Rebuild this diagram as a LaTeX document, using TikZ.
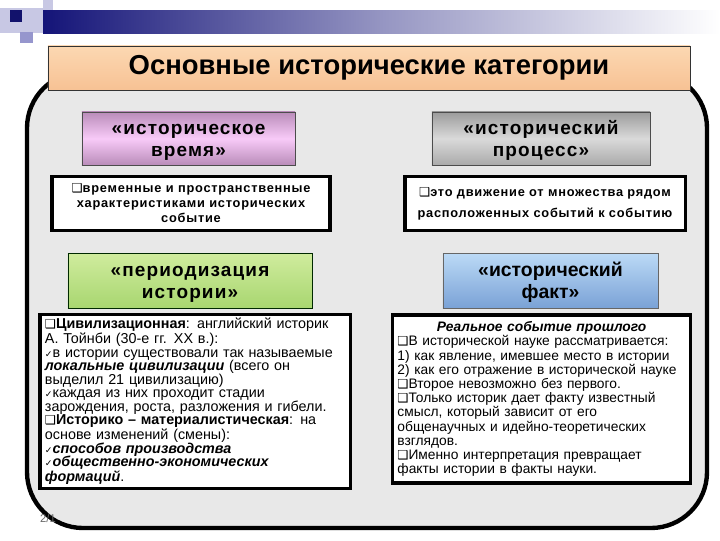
\documentclass[tikz,border=0pt]{standalone}
\usepackage{fontspec}
\setmainfont{Liberation Sans}
\newfontfamily\symfont{DejaVu Sans}
\newfontfamily\spacedfont[LetterSpace=6]{Liberation Sans}
\usetikzlibrary{positioning,shapes.geometric}
\definecolor{navyDS}{RGB}{20,20,120}
\definecolor{lavDS}{RGB}{200,200,228}
\definecolor{lavDarkDS}{RGB}{150,150,205}
\definecolor{panelDS}{RGB}{232,232,232}
\definecolor{peachTop}{RGB}{252,216,178}
\definecolor{peachBot}{RGB}{247,194,148}
\definecolor{purpEdge}{RGB}{185,140,185}
\definecolor{purpMid}{RGB}{248,202,248}
\definecolor{greyEdge}{RGB}{155,155,155}
\definecolor{greyMid}{RGB}{218,218,218}
\definecolor{greenTop}{RGB}{208,236,158}
\definecolor{greenBot}{RGB}{168,214,112}
\definecolor{blueTop}{RGB}{188,218,246}
\definecolor{blueBot}{RGB}{122,162,214}
\newcommand{\sqbul}{{\symfont\fontsize{8.8}{8.8}\selectfont ❑}}
\newcommand{\chkbul}{{\symfont\fontsize{6.5}{6.5}\selectfont ✓}}
\newcommand{\headstrut}{\rule{0pt}{13pt}}
\setlength{\lineskiplimit}{-10pt}

\begin{document}
\begin{tikzpicture}[x=0.025cm, y=-0.025cm,
      title/.style  = {rectangle, draw=black!80, thin, top color=peachTop,
          bottom color=peachBot, minimum width=16.05cm, minimum height=1.1cm,
          inner sep=0pt, font=\bfseries\fontsize{19.5}{21}\selectfont},
      head/.style   = {rectangle, draw=black!70, thin, align=center, inner sep=0pt,
          minimum height=1.33cm, font=\spacedfont\bfseries\fontsize{13.5}{15.6}\selectfont},
      desc/.style   = {rectangle, draw=black, line width=2.2pt, fill=white,
          align=center, inner sep=0pt, minimum height=1.33cm,
          font=\spacedfont\bfseries\fontsize{9.1}{10.7}\selectfont},
      longdesc/.style = {rectangle, draw=black, line width=2.2pt, fill=white,
          align=left, inner xsep=3.5pt, inner ysep=0pt},
      pagenum/.style = {font=\fontsize{8}{8}\selectfont, text=black!60},
    ]
    \useasboundingbox (0,0) rectangle (720,540);

    % ── Decoración superior ──────────────────────────────────────
    \fill[lavDS] (0,8) rectangle (43,33);
    \fill[lavDS] (43,0) rectangle (53,12);
    \fill[lavDarkDS] (20,32) rectangle (33,43);
    \shade[left color=navyDS, right color=white, middle color=navyDS!45]
      (43,10) rectangle (720,33);
    \fill[navyDS!90!black] (10,10) rectangle (22,22);

    % ── Panel ────────────────────────────────────────────────────
    \draw[line width=3.1pt, fill=panelDS, rounded corners=1.4cm]
      (27,72) rectangle (707,528);
    \node[pagenum] (pnum) at (48,518) {2/1};

    % ── Título ───────────────────────────────────────────────────
    \node[title] (tit) at (369,68) {Основные исторические категории};

    % ── Categorías ───────────────────────────────────────────────
    \node[head, minimum width=5.33cm, top color=purpEdge, bottom color=purpEdge,
          middle color=purpMid] (tiempo) at (188.5,138.5) {\headstrut«историческое\\время»};
    \node[desc, minimum width=6.95cm] (tiempoD) at (191,203.5)
      {\sqbul временные и пространственные\\характеристиками исторических\\событие};

    \node[head, minimum width=5.45cm, top color=greyEdge, bottom color=greyEdge!85,
          middle color=greyMid] (proceso) at (541,138.5) {\headstrut«исторический\\процесс»};
    \node[desc, minimum width=7cm, font=\spacedfont\bfseries\fontsize{9.1}{15}\selectfont]
      (procesoD) at (545,203.5)
      {\sqbul это движение от множества рядом\\расположенных событий к событию};

    \node[head, minimum width=6.1cm, minimum height=1.375cm, draw=black!60!green!40!black,
          top color=greenTop, bottom color=greenBot] (period) at (190,280.5)
      {\headstrut«периодизация\\истории»};
    \node[longdesc, minimum width=7.75cm, minimum height=4.33cm, text width=7.5cm,
          font=\fontsize{10.2}{9.6}\selectfont] (periodD) at (195,401.5)
      {\sqbul\textbf{Цивилизационная}: английский историк\\
       А. Тойнби (30-е гг. XX в.):\\
       \chkbul в истории существовали так называемые\\
       \textbf{\textit{локальные цивилизации}} (всего он\\
       выделил 21 цивилизацию)\\
       \chkbul каждая из них проходит стадии\\
       зарождения, роста, разложения и гибели.\\
       \sqbul\textbf{Историко – материалистическая}: на\\
       основе изменений (смены):\\
       \chkbul\textbf{\textit{способов производства}}\\
       \chkbul\textbf{\textit{общественно-экономических}}\\
       \textbf{\textit{формаций}}.};

    \node[head, minimum width=5.375cm, minimum height=1.375cm, draw=black!60,
          font=\bfseries\fontsize{13.8}{15.6}\selectfont,
          top color=blueTop, bottom color=blueBot] (hecho) at (550.5,280.5)
      {\headstrut«исторический\\факт»};
    \node[longdesc, minimum width=7.425cm, minimum height=4.2cm, text width=7.2cm,
          font=\fontsize{9.8}{10.1}\selectfont] (hechoD) at (541.5,399)
      {\centerline{\textbf{\textit{Реальное событие прошлого}}}\\
       \sqbul В исторической науке рассматривается:\\
       1) как явление, имевшее место в истории\\
       2) как его отражение в исторической науке\\
       \sqbul Второе невозможно без первого.\\
       \sqbul Только историк дает факту известный\\
       смысл, который зависит от его\\
       общенаучных и идейно-теоретических\\
       взглядов.\\
       \sqbul Именно интерпретация превращает\\
       факты истории в факты науки.};

  \end{tikzpicture}
\end{document}
